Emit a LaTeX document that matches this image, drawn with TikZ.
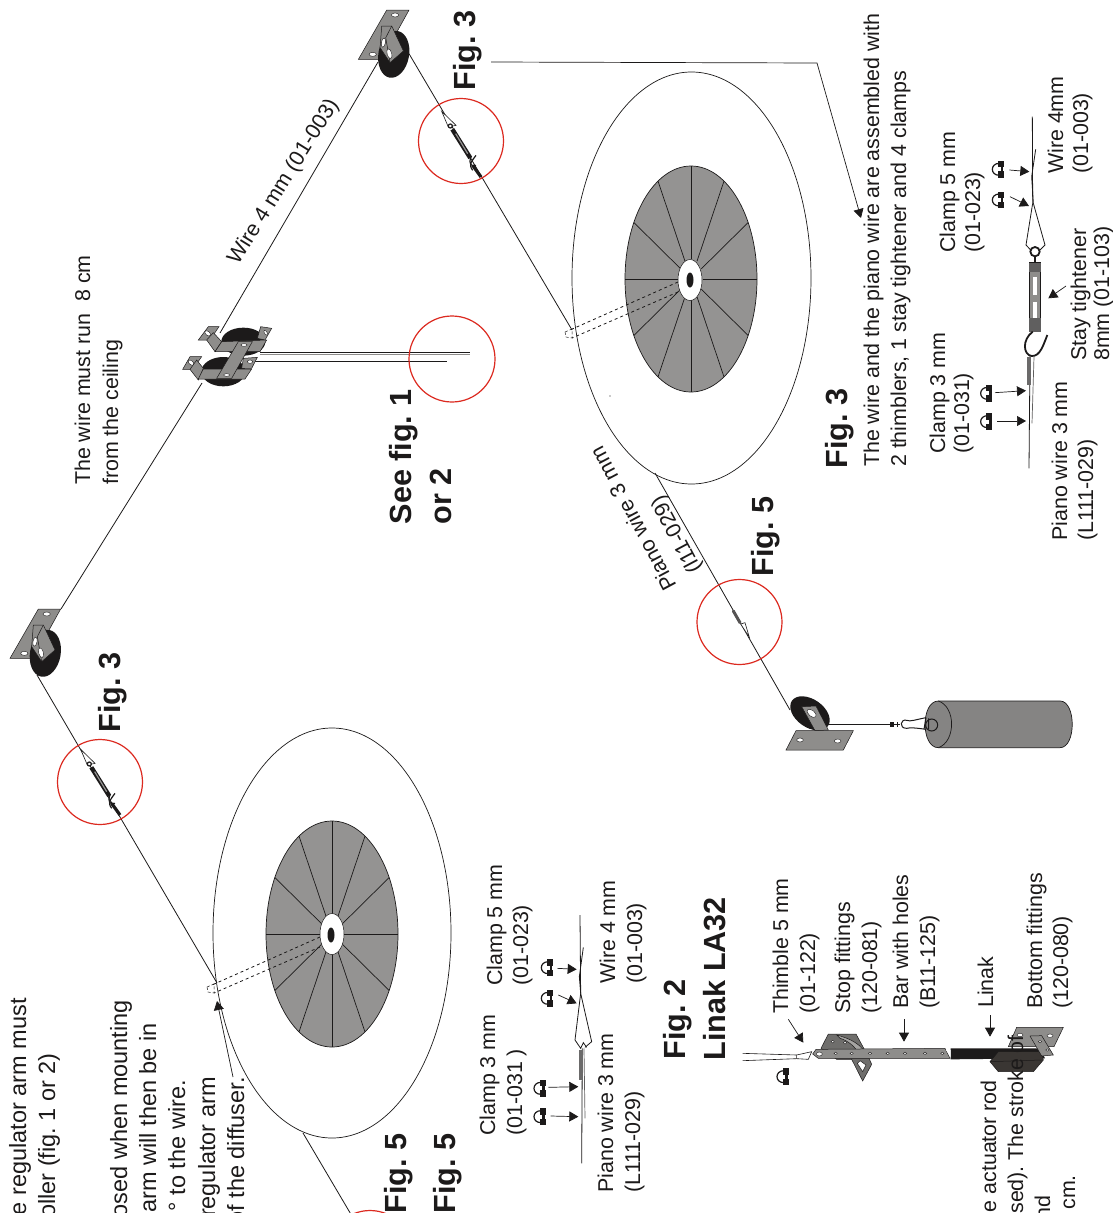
\documentclass[tikz,border=0pt]{standalone}
\usepackage{fontspec}
\setmainfont{Liberation Sans}
\usetikzlibrary{arrows.meta}
\definecolor{ink}{HTML}{1C1A1A}
\definecolor{disc}{HTML}{949392}
\definecolor{metal}{HTML}{8E8D8B}
\definecolor{darkmetal}{HTML}{6F6E6C}
\definecolor{cyl}{HTML}{858483}
\definecolor{redc}{HTML}{DC2A20}
\definecolor{body}{HTML}{3A3633}
\tikzset{
  zoomed/.style 2 args={shift={(#1,#2)},x=.33333pt,y=-.33333pt},
  wire/.style={draw=ink,line width=.8pt},
  plate/.style={fill=metal,draw=ink,line width=.5pt},
  hole/.style={fill=white,draw=ink,line width=.4pt},
  redring/.style={draw=redc,line width=1.2pt},
  arr/.style={draw=ink,line width=.7pt,-{Triangle[length=9pt,width=10pt]}},
  txt/.style={inner sep=0pt,rotate=90,text=ink,font=\frenchspacing\fontsize{21.4}{25}\selectfont},
  big/.style={inner sep=0pt,rotate=90,text=ink,font=\frenchspacing\fontsize{23.5}{28}\selectfont},
  bold/.style={inner sep=0pt,rotate=90,text=ink,font=\frenchspacing\fontsize{30.6}{36}\selectfont\bfseries},
  st/.style={anchor=base west},
  en/.style={anchor=base east}
}
\newcommand\clampg[2]{%
  \begin{scope}[shift={(#1,#2)}]
    \draw[ink,line width=1.2pt] (0,-18) .. controls (-28,-18) and (-28,18) .. (0,18);
    \fill[ink] (-4,-25) rectangle (14,-6);
    \fill[ink] (-4,6) rectangle (14,25);
    \fill[ink] (4,-8) rectangle (12,8);
  \end{scope}}
\newcommand\pulleyg[2]{%
  \begin{scope}[zoomed={#1}{#2}]
    \path[plate] (115,57) -- (182,57) -- (100,205) -- (30,205) -- cycle;
    \path[hole] (140,72) ellipse [x radius=11,y radius=6];
    \path[hole] (73,190) ellipse [x radius=11,y radius=6];
    \fill[ink,shift={(136,190)},rotate=-10] (0,0) ellipse [x radius=46,y radius=71];
    \path[plate] (100,105) -- (130,105) -- (165,180) -- (125,215) -- (95,170) -- cycle;
    \draw[ink,line width=.5pt] (130,105) -- (112,140) -- (125,215);
    \path[hole,shift={(105,155)},rotate=-10] (0,0) ellipse [x radius=6,y radius=14];
    \path[hole,shift={(123,188)},rotate=15] (0,0) ellipse [x radius=7,y radius=15];
  \end{scope}}
\newcommand\turnb[2]{%
  \begin{scope}[zoomed={#1}{#2}]
    \draw[ink,line width=.6pt,fill=white] (242,478) -- (285,520) -- (262,525) -- cycle;
    \draw[ink,line width=4.4pt] (274,532) -- (328,618);
    \draw[disc,line width=1.2pt] (284,545) -- (320,605);
    \draw[ink,line width=1.2pt,fill=white] (268,522) circle [radius=6];
    \draw[ink,line width=1.2pt] (345,610) .. controls (335,625) and (320,635) .. (335,655);
    \draw[ink,line width=1.2pt] (330,615) .. controls (322,635) and (330,645) .. (345,640);
    \draw[ink,line width=3.2pt] (335,640) -- (360,675);
  \end{scope}}
\begin{document}
\begin{tikzpicture}[x=1pt,y=-1pt]
\useasboundingbox (0,0) rectangle (1112,1213);
\clip (0,0) rectangle (1112,1213);
\fill[white] (0,0) rectangle (1112,1213);

% ----- main wire and pulleys wires
\draw[wire] (378,62) -- (220,333) (202,383) -- (61,609);
\draw[wire] (37,675) -- (217,983);
\draw[wire] (408,52) -- (572,330);
\draw[wire] (303,1133) -- (372,1250);
\draw[wire] (655,473) -- (790,710);

% ----- left disc
\draw[ink,line width=.7pt] (332,933) ellipse [x radius=119,y radius=205];
\path[fill=disc,draw=ink,line width=.7pt] (332,934) ellipse [x radius=66,y radius=113];
\foreach \a in {0,30,...,330}
  \draw[ink,line width=.7pt] ({332+12*cos(\a)},{934+20.5*sin(\a)}) -- ({332+66*cos(\a)},{934+113*sin(\a)});
\path[fill=white,draw=ink,line width=.5pt] (332,934) ellipse [x radius=12,y radius=20.5];
\fill[ink] (331,935) ellipse [x radius=3.5,y radius=7.5];
\draw[ink,line width=.8pt,dashed] (320,937) -- (212,985) (320,947) -- (214,993);
\draw[ink,line width=.5pt,densely dashed] (207,987) -- (214,984) -- (214,993) -- (208,992) -- cycle;

% ----- right disc
\draw[ink,line width=.7pt] (691.5,278) ellipse [x radius=119.5,y radius=206];
\path[fill=disc,draw=ink,line width=.7pt] (691,279) ellipse [x radius=66,y radius=113];
\foreach \a in {0,30,...,330}
  \draw[ink,line width=.7pt] ({691+12*cos(\a)},{279+20.5*sin(\a)}) -- ({691+66*cos(\a)},{279+113*sin(\a)});
\path[fill=white,draw=ink,line width=.5pt] (690,280) ellipse [x radius=12,y radius=20.5];
\fill[ink] (690,280) ellipse [x radius=3.5,y radius=7.5];
\draw[ink,line width=.8pt,dashed] (678,282) -- (570,330) (678,292) -- (572,338);
\draw[ink,line width=.5pt,densely dashed] (565,332) -- (572,329) -- (572,338) -- (566,337) -- cycle;
\fill[ink] (610,396) circle [radius=.6];

% ----- turnbuckles and pulleys
\turnb{0}{590}
\turnb{361}{-48}
\pulleyg{0}{590}
\pulleyg{348.4}{-9}

% ----- middle double pulley
\begin{scope}[zoomed={170}{310}]
  \draw[ink,line width=.8pt] (270,128) -- (900,128);
  \draw[metal,line width=.8pt] (270,134) -- (900,134);
  \draw[ink,line width=.8pt] (240,155) -- (831,155);
  \fill[ink] (220,95) ellipse [x radius=66,y radius=42];
  \fill[ink] (160,185) ellipse [x radius=66,y radius=44];
  \path[plate] (115,50) -- (147,50) -- (120,90) -- (85,90) -- cycle;
  \path[hole,shift={(113,70)},rotate=-40] (0,0) ellipse [x radius=10,y radius=6];
  \path[plate] (130,68) -- (155,95) -- (135,125) -- (110,90) -- cycle;
  \path[plate] (272,50) -- (305,55) -- (285,90) -- (262,85) -- cycle;
  \path[hole,shift={(287,68)},rotate=-60] (0,0) ellipse [x radius=8,y radius=4];
  \path[plate] (155,95) -- (290,90) -- (270,125) -- (135,125) -- cycle;
  \path[plate] (60,140) -- (95,140) -- (68,178) -- (38,178) -- cycle;
  \path[hole,shift={(63,158)},rotate=-40] (0,0) ellipse [x radius=10,y radius=6];
  \path[plate] (80,150) -- (100,175) -- (85,210) -- (60,178) -- cycle;
  \path[plate] (220,145) -- (262,142) -- (245,175) -- (215,175) -- cycle;
  \path[hole,shift={(240,155)}] (0,0) ellipse [x radius=8,y radius=5];
  \path[plate] (100,177) -- (245,177) -- (225,207) -- (85,207) -- cycle;
  \path[plate] (205,95) -- (247,95) -- (185,205) -- (140,205) -- cycle;
  \path[hole] (222,105) ellipse [x radius=9,y radius=4];
  \path[hole] (170,195) ellipse [x radius=9,y radius=4];
\end{scope}

% ----- weight assembly
\begin{scope}[zoomed={690}{600}]
  \draw[ink!75,line width=3pt,line cap=round] (130,33) -- (150,68);
  \draw[ink,line width=.6pt,fill=white] (152,72) -- (165,68) -- (178,112) -- cycle;
  \fill[ink,shift={(360,340)},rotate=-35] (0,0) ellipse [x radius=66,y radius=42];
  \path[plate] (335,320) -- (378,318) -- (415,390) -- (375,392) -- cycle;
  \path[hole,shift={(365,340)},rotate=-40] (0,0) ellipse [x radius=16,y radius=9];
  \path[plate] (318,392) -- (490,392) -- (460,450) -- (288,450) -- cycle;
  \path[hole] (330,420) ellipse [x radius=10,y radius=6];
  \path[hole] (443,423) ellipse [x radius=10,y radius=6];
  \draw[metal,line width=1pt] (415,373) -- (600,373);
  \draw[ink,line width=.5pt] (415,372) -- (600,372);
  \draw[ink,line width=1.6pt] (603,366) -- (603,380) (609,366) -- (609,380) (622,366) -- (622,380);
  \draw[ink,line width=.6pt] (605,373) -- (630,373);
  \path[fill=cyl,draw=ink,line width=.7pt] (745,303) -- (1110,303) .. controls (1159,303) and (1159,443) .. (1110,443) -- (745,443) .. controls (692,443) and (692,303) .. (745,303) -- cycle;
  \draw[ink,line width=.7pt] (745,303) .. controls (798,320) and (798,425) .. (745,443);
  \draw[ink,line width=1pt] (725,375) circle [radius=18];
  \draw[ink,line width=1pt] (708,353) .. controls (680,358) and (660,366) .. (650,361) .. controls (632,355) and (625,385) .. (650,385) .. controls (660,382) and (680,384) .. (708,388);
  \draw[ink,line width=1pt] (708,353) -- (702,388) (716,355) -- (716,388);
\end{scope}

% ----- red rings
\draw[redring] (100,782) circle [radius=42.5];
\draw[redring] (461,141) circle [radius=42.5];
\draw[redring] (739.5,622) circle [radius=42.5];
\draw[redring] (452,359) circle [radius=43];
\draw[redring] (370,1253) circle [radius=42.5];

% ----- leader lines
\coordinate (figlead) at (491,62);
\coordinate (figknee) at (817,63);
\coordinate (figend) at (861,218);
\draw[arr] (figlead) -- (figknee) -- (figend);
\coordinate (notea) at (233,1077);
\coordinate (noteb) at (217,1001);
\draw[arr] (notea) -- (noteb);

% ----- detail left (Fig. 2 upper)
\begin{scope}[zoomed={460}{860}]
  \draw[ink,line width=.8pt] (360,165) -- (362,400);
  \draw[ink,line width=.8pt] (370,262) -- (358,350) -- (362,400) -- (395,545) -- (375,562);
  \draw[ink,line width=.8pt] (362,400) -- (345,540) -- (362,565) -- (370,548) -- (380,562);
  \draw[ink,line width=.8pt] (367,565) -- (365,910);
  \draw[ink!65,line width=4pt] (362,570) -- (362,660);
  \draw[ink!70,line width=.7pt] (372,565) -- (375,775);
  \clampg{265}{323} \clampg{265}{415} \clampg{243}{685} \clampg{243}{770}
  \draw[arr] (292,325) -- (350,328);
  \draw[arr] (295,405) -- (350,430);
  \draw[arr] (265,682) -- (355,680);
  \draw[arr] (272,768) -- (355,770);
\end{scope}

% ----- detail right (Fig. 3)
\begin{scope}[zoomed={920}{70}]
  \draw[ink,line width=.8pt] (337,140) -- (338,400);
  \draw[ink,line width=.8pt] (347,238) -- (335,320) -- (340,400) -- (375,525);
  \draw[ink,line width=.8pt] (338,400) -- (318,525) -- (332,540);
  \draw[ink,line width=.8pt] (375,525) -- (360,540);
  \draw[ink,line width=1.8pt] (345,545) circle [radius=14];
  \draw[ink,line width=1.6pt] (345,560) -- (345,578);
  \draw[ink,line width=1.6pt,fill=metal] (328,578) rectangle (362,785);
  \fill[white] (338,620) rectangle (350,675);
  \fill[white] (338,695) rectangle (350,745);
  \fill[ink!70] (328,578) rectangle (362,605);
  \fill[ink!70] (328,745) rectangle (362,785);
  \draw[ink,line width=1.8pt] (338,785) .. controls (305,810) and (310,855) .. (335,858) .. controls (360,860) and (370,825) .. (382,795);
  \draw[ink,line width=.8pt] (330,855) -- (327,1195);
  \draw[ink!65,line width=4pt] (328,860) -- (328,945);
  \draw[ink!70,line width=.7pt] (342,860) -- (336,1060);
  \clampg{238}{298} \clampg{238}{390} \clampg{203}{970} \clampg{203}{1055}
  \draw[arr] (268,300) -- (328,305);
  \draw[arr] (270,380) -- (327,408);
  \draw[arr] (225,968) -- (318,962);
  \draw[arr] (232,1053) -- (318,1053);
  \draw[arr] (438,648) -- (385,685);
\end{scope}

% ----- Linak assembly
\begin{scope}[zoomed={740}{870}]
  \draw[ink,line width=.6pt] (8,550) -- (170,555) (8,572) -- (170,566);
  \draw[ink,line width=.6pt,fill=white] (170,555) -- (215,545) -- (205,568) -- (170,566) -- cycle;
  \clampg{132}{620}
  \path[fill=darkmetal,draw=ink,line width=.5pt] (265,492) -- (348,492) -- (385,560) -- (395,583) -- (368,633) -- (335,568) -- (290,568) -- (243,535) -- cycle;
  \path[hole] (278,515) ellipse [x radius=5,y radius=4];
  \path[hole] (315,518) ellipse [x radius=5,y radius=4];
  \path[fill=white,draw=ink,line width=.5pt] (360,572) -- (378,585) -- (368,605) -- (352,580) -- cycle;
  \draw[ink,line width=.5pt,fill=metal!80] (290,495) .. controls (330,505) and (370,525) .. (378,558) -- (360,560) .. controls (350,530) and (320,510) .. (300,505) -- cycle;
  \fill[ink] (632,535) -- (900,535) -- (915,565) -- (632,568) -- cycle;
  \path[fill=body,draw=ink,line width=.5pt] (750,575) -- (775,545) -- (905,545) -- (910,570) -- (880,605) -- (775,605) -- cycle;
  \draw[ink,line width=.5pt] (750,575) -- (905,570);
  \path[plate] (228,538) -- (615,535) -- (630,565) -- (235,565) -- (218,552) -- cycle;
  \path[hole] (238,552) ellipse [x radius=9,y radius=6];
  \foreach \hx in {287,335,390,443,495,555,607}
    \path[hole] (\hx,550) ellipse [x radius=5,y radius=3.5];
  \path[fill=white] (618,540) -- (632,540) -- (632,562) -- cycle;
  \path[plate] (830,472) -- (970,472) -- (942,530) -- (805,530) -- cycle;
  \path[hole] (840,495) ellipse [x radius=9,y radius=5];
  \path[hole] (930,497) ellipse [x radius=9,y radius=5];
  \path[plate] (870,498) -- (905,497) -- (940,555) -- (905,558) -- cycle;
  \path[hole] (900,515) ellipse [x radius=5,y radius=3.5];
  \path[hole] (922,540) ellipse [x radius=5,y radius=3.5];
  \draw[arr] (145,448) -- (190,518);
  \draw[arr] (492,448) -- (492,515);
  \draw[arr] (750,435) -- (750,500);
\end{scope}

% ----- truncated text, left
\node[big,en] (a1) at (26,998) {e regulator arm must};
\node[big,en] (a2) at (55,1053) {oller (fig. 1 or 2)};
\node[big,en] (b1) at (127,1000) {osed when mounting};
\node[big,en] (b2) at (156,1023) {arm will then be in};
\node[big,en] (b3) at (185,1080) {° to the wire.};
\node[big,en] (b4) at (215,1077) {regulator arm};
\node[big,en] (b5) at (244,1077) {of the diffuser.};

% ----- bold figure labels
\node[bold,st] (f5a) at (406,1213.5) {Fig. 5};
\node[bold,st] (f5b) at (455,1213.5) {Fig. 5};
\node[bold,st] (f3a) at (120,732.5) {Fig. 3};
\node[bold,st] (f3b) at (475,90.5) {Fig. 3};
\node[bold,st] (see1) at (411,524.5) {See fig. 1};
\node[bold,st] (see2) at (451,524.5) {or 2};
\node[bold,st] (f3c) at (847,468.5) {Fig. 3};
\node[bold,st] (f5c) at (773,576.5) {Fig. 5};
\node[bold,st] (f2) at (685,1059.5) {Fig. 2};
\node[bold,st] (lk) at (725,1060.5) {Linak LA32};

% ----- wire labels
\node[txt,st,rotate=-32] (w4) at (238,266) {Wire 4 mm (01-003)};
\node[txt,st,rotate=28] (pw1) at (677,586) {Piano wire 3 mm};
\node[txt,st,rotate=28] (pw2) at (702,569) {(l11-029)};
\node[txt,st] (ru1) at (90,485) {The wire must run\ \ 8 cm};
\node[txt,st] (ru2) at (118,485) {from the ceiling};
\node[txt,st] (as1) at (879,467) {The wire and the piano wire are assembled with};
\node[txt,st] (as2) at (906,467) {2 thimblers, 1 stay tightener and 4 clamps};

% ----- Fig. 3 detail labels
\node[txt,st] (c5r) at (955,253) {Clamp 5 mm};
\node[txt,st] (c5rb) at (980,253) {(01-023)};
\node[txt,st] (c3r) at (945,454) {Clamp 3 mm};
\node[txt,st] (c3rb) at (969,454) {(01-031)};
\node[txt,st] (pr) at (1067,541) {Piano wire 3 mm};
\node[txt,st] (prb) at (1093,541) {(L111-029)};
\node[txt,st] (sr) at (1086,361) {Stay tightener};
\node[txt,st] (srb) at (1109,361) {8mm (01-103)};
\node[txt,st] (wr) at (1063,174) {Wire 4mm};
\node[txt,st] (wrb) at (1088,174) {(01-003)};

% ----- Fig. 2 upper labels
\node[txt,st] (c5l) at (502,986) {Clamp 5 mm};
\node[txt,st] (c5lb) at (528,986) {(01-023)};
\node[txt,st] (c3l) at (495,1136) {Clamp 3 mm};
\node[txt,st] (c3lb) at (522,1136) {(01-031 )};
\node[txt,st] (wl) at (615,984) {Wire 4 mm};
\node[txt,st] (wlb) at (642,984) {(01-003)};
\node[txt,st] (pl) at (613,1193) {Piano wire 3 mm};
\node[txt,st] (plb) at (640,1193) {(L111-029)};

% ----- Linak labels
\node[txt,st] (t1) at (788,1014) {Thimble 5 mm};
\node[txt,st] (t2) at (815,1014) {(01-122)};
\node[txt,st] (s1) at (850,1014) {Stop fittings};
\node[txt,st] (s2) at (877,1014) {(120-081)};
\node[txt,st] (h1) at (908,1009) {Bar with holes};
\node[txt,st] (h2) at (935,1009) {(B11-125)};
\node[txt,st] (li) at (993,1008) {Linak};
\node[txt,st] (bf1) at (1042,1009) {Bottom fittings};
\node[txt,st] (bf2) at (1068,1009) {(120-080)};
\node[txt,en] (ac1) at (996,1080) {e actuator rod};
\node[txt,en] (ac2) at (1023,1035) {sed). The stroke of};
\node[txt,en] (ac3) at (1050,1195) {nd};
\node[txt,en] (ac4) at (1075,1175) {cm.};
\end{tikzpicture}
\end{document}
